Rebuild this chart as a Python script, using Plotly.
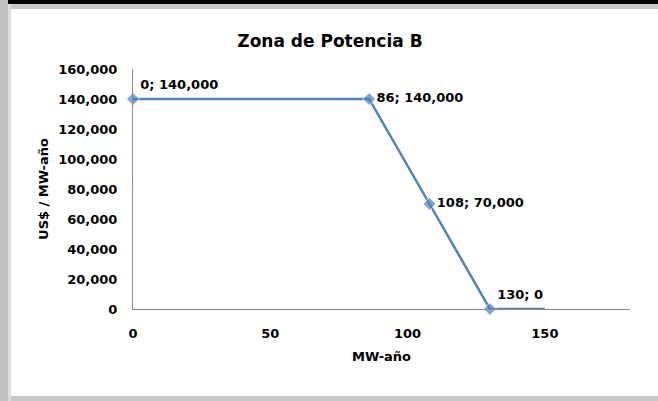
import plotly.graph_objects as go

# Datos de la curva
mw_anio = [0, 86, 108, 130, 150]
usd_mw_anio = [140000, 140000, 70000, 0, 0]
etiquetas = [f"{x}; {y:,}" for x, y in zip(mw_anio[:4], usd_mw_anio[:4])] + [""]
posiciones = ["top right", "middle right", "middle right", "top right", "middle right"]

FONT = "DejaVu Sans"
AZUL = "#4F81BD"

fig = go.Figure()
fig.add_trace(go.Scatter(
    x=mw_anio, y=usd_mw_anio,
    mode="lines+markers+text",
    line=dict(color=AZUL, width=2.5),
    marker=dict(symbol="diamond", size=[10, 10, 10, 10, 0], color=AZUL),
    text=etiquetas, textposition=posiciones,
    textfont=dict(family=FONT, size=13, color="#000000", weight="bold"),
    cliponaxis=False, showlegend=False,
))

# Ejes
eje = dict(
    showgrid=False, zeroline=False,
    showline=True, linecolor="#8C8C8C", linewidth=1,
    ticks="", tickfont=dict(family=FONT, size=13, color="#000000", weight="bold"),
)
fig.update_xaxes(
    range=[0, 181], tickvals=[0, 50, 100, 150], ticklabelstandoff=12,
    title=dict(text="MW-año", standoff=12,
               font=dict(family=FONT, size=13, color="#000000", weight="bold")),
    **eje,
)
fig.update_yaxes(
    range=[0, 160000], dtick=20000, tickformat=",", ticklabelstandoff=12,
    title=dict(text="US$ / MW-año", standoff=6,
               font=dict(family=FONT, size=13, color="#000000", weight="bold")),
    **eje,
)

# Marco (bordes de la ventana)
def px_x(px):
    return (px - 133) / 497


def px_y(py):
    return (309 - py) / 240


marco = [
    (0, 0, 658, 9, "#C8C8C8"),
    (0, 0, 658, 4, "#000000"),
    (0, 0, 8, 401, "#C0C0C0"),
    (8, 4, 11, 401, "#DCDCDC"),
    (11, 396, 658, 401, "#C8C8C8"),
]
for x0, y0, x1, y1, color in marco:
    fig.add_shape(type="rect", xref="paper", yref="paper",
                  x0=px_x(x0), x1=px_x(x1), y0=px_y(y0), y1=px_y(y1),
                  fillcolor=color, line=dict(width=0), layer="below")

fig.update_layout(
    width=658, height=401,
    margin=dict(l=133, r=28, t=69, b=92),
    paper_bgcolor="#FFFFFF", plot_bgcolor="#FFFFFF",
    title=dict(text="Zona de Potencia B", x=0.5015, xref="container",
               y=1 - 41 / 401, yref="container", yanchor="middle", xanchor="center",
               font=dict(family=FONT, size=17, color="#000000", weight="bold")),
)

fig.write_html("out.html", config={"displayModeBar": False},
               post_script="document.body.style.margin='0';")
